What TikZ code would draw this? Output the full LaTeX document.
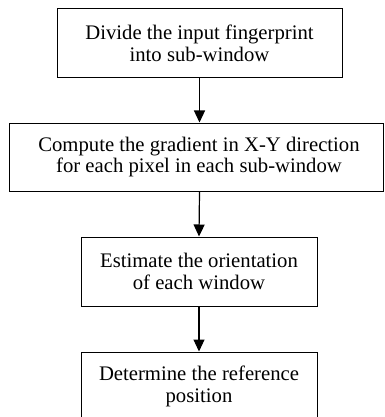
\documentclass[tikz,border=0pt]{standalone}
\usepackage{fontspec}
\setmainfont{Liberation Serif}
\usetikzlibrary{arrows.meta}
\begin{document}
\begin{tikzpicture}[x=1pt,y=-1pt,
  stepbox/.style={draw,line width=1pt,align=center,inner sep=0pt,
    font=\fontsize{20.7}{21.7}\selectfont},
  flowarrow/.style={line width=1.2pt,-{Triangle[width=11pt,length=12pt]}}]
  \useasboundingbox (0,0) rectangle (384,417);

  % Steps of the method
  \node [stepbox,minimum width=285pt,minimum height=69pt] (divide) at (199.5,43.5)
    {Divide the input fingerprint\\into sub-window};
  \node [stepbox,minimum width=374pt,minimum height=68pt] (gradient) at (196,157)
    {\hspace*{6pt}Compute the gradient in X-Y direction\\\hspace*{6pt}for each pixel in each sub-window};
  \node [stepbox,minimum width=236pt,minimum height=69pt] (orient) at (199,271.5)
    {Estimate the orientation\\of each window};
  \node [stepbox,minimum width=236pt,minimum height=69pt] (refpos) at (199,386.5)
    {Determine the reference\\position};

  % Arrows between the steps
  \draw [flowarrow] (divide.south) -- (divide.south |- gradient.north);
  \draw [flowarrow] (divide.south |- gradient.south) -- (orient.north);
  \draw [flowarrow] (orient.south) -- (refpos.north);
\end{tikzpicture}
\end{document}
